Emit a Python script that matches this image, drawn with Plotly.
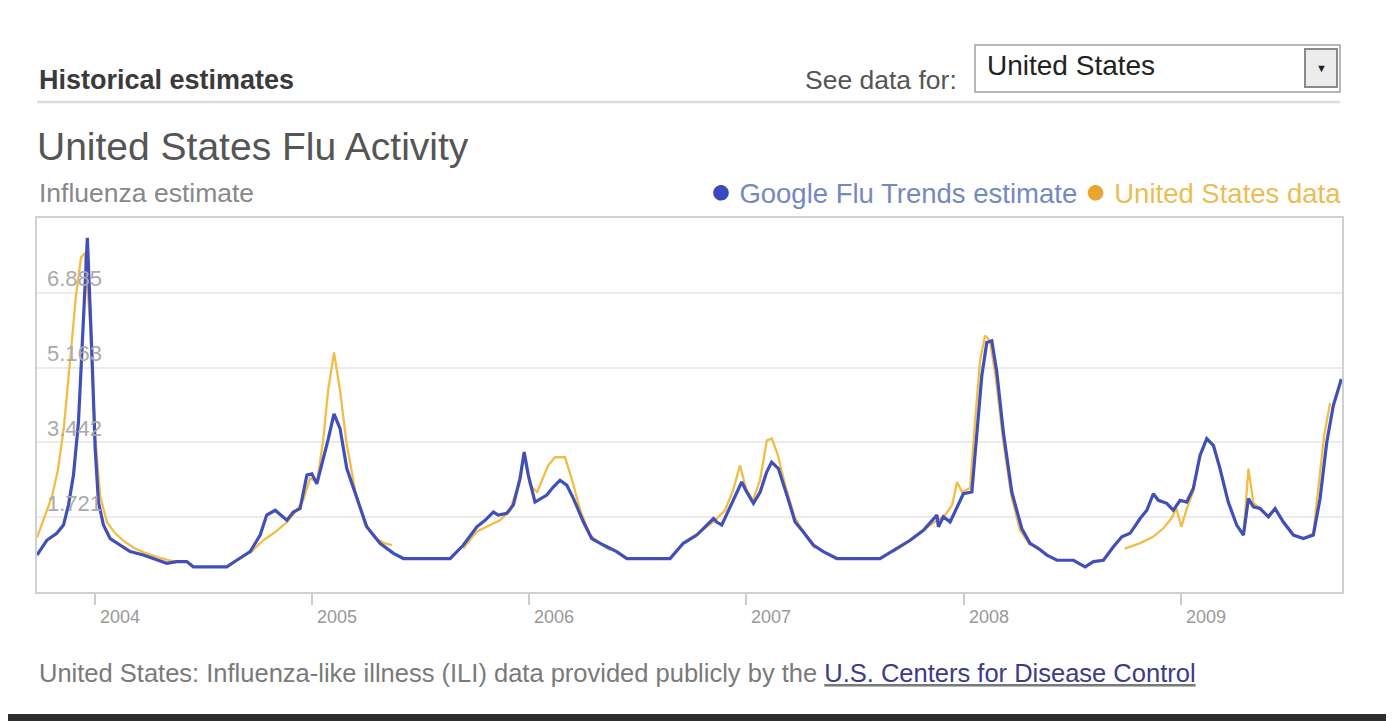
import plotly.graph_objects as go

# ---------------- data ----------------
tick_years = [2004, 2005, 2006, 2007, 2008, 2009]
tick_labels = ["2004", "2005", "2006", "2007", "2008", "2009"]
y_ticks = [1.721, 3.442, 5.163, 6.885]
y_tick_labels = ["1.721", "3.442", "5.163", "6.885"]

gft_year = [
    2003.732, 2003.777, 2003.823, 2003.854, 2003.877, 2003.900, 2003.923, 2003.946, 2003.964, 2003.984,
    2004.000, 2004.015, 2004.038, 2004.069, 2004.115, 2004.161, 2004.222, 2004.284, 2004.330, 2004.376,
    2004.422, 2004.452, 2004.606, 2004.652, 2004.714, 2004.760, 2004.790, 2004.829, 2004.883, 2004.913,
    2004.944, 2004.975, 2004.998, 2005.021, 2005.051, 2005.074, 2005.100, 2005.128, 2005.159, 2005.205,
    2005.251, 2005.312, 2005.374, 2005.420, 2005.635, 2005.696, 2005.758, 2005.796, 2005.834, 2005.857,
    2005.896, 2005.926, 2005.957, 2005.976, 2005.995, 2006.026, 2006.080, 2006.111, 2006.141, 2006.172,
    2006.203, 2006.249, 2006.287, 2006.341, 2006.402, 2006.449, 2006.648, 2006.709, 2006.771, 2006.848,
    2006.863, 2006.886, 2006.917, 2006.947, 2006.978, 2007.001, 2007.032, 2007.063, 2007.093, 2007.116,
    2007.147, 2007.186, 2007.224, 2007.262, 2007.308, 2007.354, 2007.416, 2007.615, 2007.677, 2007.754,
    2007.815, 2007.854, 2007.877, 2007.884, 2007.907, 2007.938, 2007.969, 2007.999, 2008.038, 2008.061,
    2008.084, 2008.107, 2008.130, 2008.153, 2008.183, 2008.222, 2008.268, 2008.306, 2008.345, 2008.384,
    2008.430, 2008.506, 2008.560, 2008.598, 2008.644, 2008.690, 2008.729, 2008.767, 2008.813, 2008.844,
    2008.874, 2008.897, 2008.936, 2008.966, 2008.997, 2009.028, 2009.058, 2009.089, 2009.120, 2009.151,
    2009.181, 2009.219, 2009.258, 2009.289, 2009.312, 2009.335, 2009.366, 2009.404, 2009.435, 2009.473,
    2009.519, 2009.565, 2009.611, 2009.642, 2009.673, 2009.703, 2009.740,
]
gft_value = [
    0.85, 1.19, 1.35, 1.54, 2.00, 2.69, 3.91, 6.36, 8.15, 5.60,
    3.30, 2.07, 1.54, 1.23, 1.08, 0.93, 0.85, 0.73, 0.66, 0.70,
    0.70, 0.58, 0.58, 0.73, 0.93, 1.31, 1.77, 1.88, 1.65, 1.84,
    1.92, 2.69, 2.72, 2.49, 3.07, 3.53, 4.10, 3.76, 2.84, 2.15,
    1.50, 1.12, 0.89, 0.77, 0.77, 1.08, 1.50, 1.65, 1.84, 1.77,
    1.81, 2.00, 2.61, 3.22, 2.69, 2.07, 2.23, 2.42, 2.57, 2.46,
    2.15, 1.61, 1.23, 1.08, 0.93, 0.77, 0.77, 1.12, 1.31, 1.69,
    1.61, 1.54, 1.88, 2.23, 2.53, 2.30, 2.04, 2.30, 2.76, 2.99,
    2.84, 2.23, 1.61, 1.38, 1.08, 0.93, 0.77, 0.77, 0.96, 1.19,
    1.42, 1.65, 1.77, 1.50, 1.73, 1.61, 1.92, 2.26, 2.30, 3.68,
    4.98, 5.74, 5.78, 5.06, 3.68, 2.30, 1.46, 1.12, 1.00, 0.85,
    0.73, 0.73, 0.58, 0.70, 0.73, 1.04, 1.27, 1.35, 1.69, 1.88,
    2.26, 2.11, 2.04, 1.88, 2.11, 2.07, 2.38, 3.14, 3.53, 3.37,
    2.84, 2.07, 1.54, 1.31, 2.15, 1.96, 1.92, 1.73, 1.92, 1.61,
    1.31, 1.23, 1.31, 2.15, 3.45, 4.29, 4.90,
]

# CDC ILI data, reported by season (gaps = not reported)
cdc_year = [
    2003.732, 2003.769, 2003.801, 2003.828, 2003.856, 2003.884, 2003.911, 2003.935, 2003.953, 2003.976,
    2004.000, 2004.023, 2004.055, 2004.092, 2004.138, 2004.184, 2004.230, 2004.290, 2004.345, 2004.382,
    None,
    2004.714, 2004.774, 2004.829, 2004.884, 2004.921, 2004.958, 2004.990, 2005.022, 2005.050, 2005.073,
    2005.100, 2005.128, 2005.156, 2005.197, 2005.243, 2005.289, 2005.335, 2005.367,
    None,
    2005.695, 2005.755, 2005.819, 2005.865, 2005.911, 2005.948, 2005.976, 2006.003, 2006.036, 2006.086,
    2006.118, 2006.164, 2006.197, 2006.234, 2006.280, 2006.326, 2006.372,
    None,
    2006.708, 2006.786, 2006.855, 2006.901, 2006.938, 2006.970, 2006.998, 2007.030, 2007.062, 2007.094,
    2007.117, 2007.145, 2007.178, 2007.224, 2007.270, 2007.316,
    None,
    2007.675, 2007.754, 2007.846, 2007.915, 2007.947, 2007.970, 2007.993, 2008.030, 2008.053, 2008.076,
    2008.099, 2008.122, 2008.150, 2008.182, 2008.219, 2008.260, 2008.306,
    None,
    2008.742, 2008.811, 2008.873, 2008.919, 2008.957, 2008.980, 2009.003, 2009.028, 2009.057, 2009.089,
    2009.120, 2009.151, 2009.181, 2009.219, 2009.258, 2009.289, 2009.312, 2009.335, 2009.366, 2009.404,
    2009.435, 2009.473, 2009.519, 2009.565, 2009.611, 2009.633, 2009.661, 2009.688,
]
cdc_value = [
    1.25, 1.75, 2.20, 2.80, 3.80, 5.30, 6.80, 7.70, 7.80, 6.20,
    3.60, 2.20, 1.60, 1.35, 1.15, 1.00, 0.90, 0.80, 0.72, 0.70,
    None,
    0.90, 1.19, 1.38, 1.61, 1.84, 2.11, 2.62, 2.53, 3.49, 4.64,
    5.51, 4.64, 3.49, 2.34, 1.54, 1.24, 1.12, 1.08,
    None,
    1.00, 1.38, 1.54, 1.65, 1.88, 2.46, 3.14, 2.46, 2.30, 2.91,
    3.10, 3.10, 2.57, 1.88, 1.31, 1.12, 0.96,
    None,
    1.12, 1.38, 1.65, 1.88, 2.34, 2.91, 2.38, 2.11, 2.57, 3.49,
    3.53, 3.14, 2.46, 1.70, 1.31, 1.00,
    None,
    0.92, 1.19, 1.54, 1.77, 2.00, 2.53, 2.30, 2.39, 3.95, 5.32,
    5.90, 5.78, 4.87, 3.49, 2.23, 1.42, 1.08,
    None,
    1.00, 1.12, 1.27, 1.46, 1.69, 1.92, 1.50, 1.92, 2.30, 3.14,
    3.53, 3.37, 2.84, 2.07, 1.54, 1.31, 2.84, 2.05, 1.92, 1.73,
    1.92, 1.61, 1.31, 1.23, 1.35, 2.30, 3.60, 4.35,
]

x_range = [2003.732, 2009.743]
y_range = [0, 8.605]

# ---------------- layout geometry (page pixels) ----------------
W, H = 1394, 721
OFF = 8                      # default body margin of the page
L, R, T, B = 37, 1342, 218, 592


def px(xp):
    return (xp - L) / (R - L)


def py(yp):
    return (B - yp) / (B - T)


FONT = "Liberation Sans, Arial, sans-serif"
BLUE = "#4150b8"
ORANGE = "#f2bd45"

fig = go.Figure()
fig.add_trace(go.Scatter(x=cdc_year, y=cdc_value, mode="lines", name="United States data",
                         line=dict(color=ORANGE, width=2.3), connectgaps=False, hoverinfo="x+y"))
fig.add_trace(go.Scatter(x=gft_year, y=gft_value, mode="lines", name="Google Flu Trends estimate",
                         line=dict(color=BLUE, width=3.2), hoverinfo="x+y"))

ann = []


def text(xp, yp, s, size, color, anchor="left", bold=False, valign="middle"):
    ann.append(dict(xref="paper", yref="paper", x=px(xp), y=py(yp), text=("<b>%s</b>" % s) if bold else s,
                    showarrow=False, xanchor=anchor, yanchor=valign,
                    font=dict(family=FONT, size=size, color=color)))


text(37, 80, "Historical estimates", 27, "#3a3a3a", bold=True)
text(959, 80, "See data for:", 26.5, "#555555", anchor="right")
text(985, 66, "United States", 28, "#222222")
text(1321, 68, "▼", 11, "#222222", anchor="center")
text(35, 147, "United States Flu Activity", 39, "#555555")
text(37, 193, "Influenza estimate", 26.5, "#888888")
ann.append(dict(xref="paper", yref="paper", x=px(1343), y=py(191), xanchor="right", yanchor="middle",
                showarrow=False, font=dict(family=FONT, size=27.5, color="#7489c2"),
                text=("<span style='color:#3b48c0;font-size:36px'>●</span> Google Flu Trends estimate "
                      "<span style='color:#e8a530;font-size:36px'>●</span> "
                      "<span style='color:#ebbd55'>United States data</span>")))
ann.append(dict(xref="paper", yref="paper", x=px(37), y=py(673), xanchor="left", yanchor="middle",
                showarrow=False, font=dict(family=FONT, size=25.5, color="#7a7a7a"),
                text=("United States: Influenza-like illness (ILI) data provided publicly by the "
                      "<u><span style='color:#3b3b88'>U.S. Centers for Disease Control</span></u>")))

# axis tick labels, placed through the axes' own scales
for yr, lab in zip(tick_years, tick_labels):
    ann.append(dict(xref="x", yref="paper", x=yr, y=py(617), text=lab, showarrow=False,
                    xanchor="center", yanchor="middle", xshift=25,
                    font=dict(family=FONT, size=18, color="#999999")))
for v, lab in zip(y_ticks, y_tick_labels):
    ann.append(dict(xref="paper", yref="y", x=px(45), y=v, text=lab, showarrow=False,
                    xanchor="left", yanchor="middle", yshift=14,
                    font=dict(family=FONT, size=22, color="#aaaaaa")))

shapes = [
    # header rule
    dict(type="line", xref="paper", yref="paper", x0=px(37), x1=px(1340), y0=py(102), y1=py(102),
         line=dict(color="#dcdcdc", width=2.5)),
    # dropdown box
    dict(type="rect", xref="paper", yref="paper", x0=px(975), x1=px(1340), y0=py(92), y1=py(45),
         line=dict(color="#a0a0a0", width=1.5), fillcolor="white"),
    dict(type="rect", xref="paper", yref="paper", x0=px(1305), x1=px(1337), y0=py(87), y1=py(49),
         line=dict(color="#8a8a8a", width=2), fillcolor="#ececec"),
    # dark bottom edge
    dict(type="rect", xref="paper", yref="paper", x0=px(OFF), x1=px(W), y0=py(721), y1=py(714),
         line=dict(width=0), fillcolor="#2e2e2e"),
]

fig.update_layout(
    width=W - OFF, height=H - OFF,
    margin=dict(l=L - OFF, r=W - R, t=T - OFF, b=H - B, pad=0),
    paper_bgcolor="white", plot_bgcolor="white",
    showlegend=False,
    annotations=ann, shapes=shapes,
    xaxis=dict(range=x_range, tickvals=tick_years, showticklabels=False,
               showgrid=False, zeroline=False,
               ticks="outside", ticklen=11, tickwidth=1.5, tickcolor="#cccccc",
               showline=True, mirror=True, linecolor="#d0d0d0", linewidth=2),
    yaxis=dict(range=y_range, tickvals=y_ticks, showticklabels=False,
               showgrid=True, gridcolor="#ebebeb", gridwidth=2, zeroline=False,
               ticks="",
               showline=True, mirror=True, linecolor="#d0d0d0", linewidth=2),
)

fig.write_html("out.html")
